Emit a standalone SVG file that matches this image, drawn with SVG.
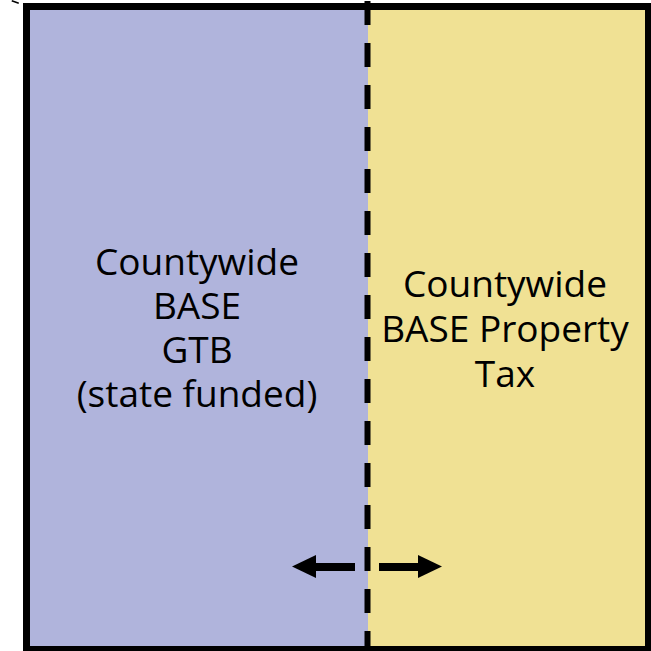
<svg xmlns="http://www.w3.org/2000/svg" width="651" height="651" viewBox="0 0 651 651">
<style>
.lbl{font-family:"Open Sans","Noto Sans","DejaVu Sans",sans-serif;font-size:37px;fill:#000;text-anchor:middle}
</style>
<rect width="651" height="651" fill="#fff"/>
<g id="left-region">
<rect x="26" y="6" width="342" height="645" fill="#b0b4dc"/>
<text class="lbl" x="197" y="275">Countywide</text>
<text class="lbl" x="197" y="319">BASE</text>
<text class="lbl" x="197" y="363">GTB</text>
<text class="lbl" x="197" y="407">(state funded)</text>
</g>
<g id="right-region">
<rect x="368" y="6" width="283" height="645" fill="#f0e194"/>
<text class="lbl" x="505" y="297">Countywide</text>
<text class="lbl" x="505" y="342">BASE Property</text>
<text class="lbl" x="505" y="387">Tax</text>
</g>
<g id="frame">
<rect x="26.5" y="6.5" width="622" height="643" fill="none" stroke="#000" stroke-width="7"/>
<path d="M12,0 L19,2.5 L18.5,4 L11.5,1.5 Z" fill="#000"/>
</g>
<g id="connectors">
<line x1="367.5" y1="1" x2="367.5" y2="651" stroke="#000" stroke-width="6" stroke-dasharray="24 18"/>
<path d="M355,567 L315,567" stroke="#000" stroke-width="8" fill="none"/>
<path d="M316,555 L292,566.5 L316,578 Z" fill="#000"/>
<path d="M379,567 L419,567" stroke="#000" stroke-width="8" fill="none"/>
<path d="M418,555 L442,566.5 L418,578 Z" fill="#000"/>
</g>
</svg>
